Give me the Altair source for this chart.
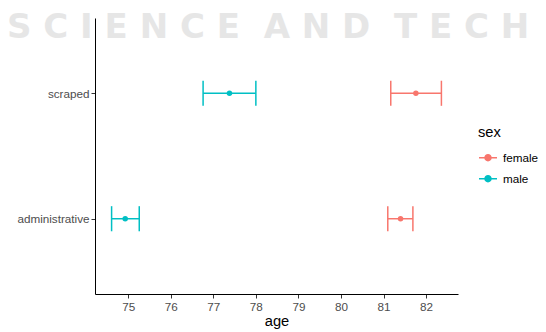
import altair as alt
import pandas as pd

# ---- data ----
groups = ["administrative", "administrative", "scraped", "scraped"]
sexes = ["female", "male", "female", "male"]
age_mean = [81.40, 74.93, 81.76, 77.38]
age_low = [81.10, 74.61, 81.17, 76.76]
age_high = [81.69, 75.26, 82.36, 78.00]
group_order = ["administrative", "scraped"]
sex_order = ["female", "male"]
sex_colors = ["#F8766D", "#00BFC4"]
x_ticks = [75, 76, 77, 78, 79, 80, 81, 82]
watermark_words = ["SCIENCE", "AND", "TECH"]
watermark = "\u00a0 ".join(" ".join(w) for w in watermark_words)

df = pd.DataFrame({
    "group": groups,
    "sex": sexes,
    "age": age_mean,
    "low": age_low,
    "high": age_high,
})
df["ypos"] = [group_order.index(g) + 1 for g in groups]

FONT = "Liberation Sans"

xscale = alt.Scale(domain=[74.22, 82.75], nice=False, zero=False)
yscale = alt.Scale(domain=[0.4, 2.6], nice=False, zero=False)
color = alt.Color(
    "sex:N",
    scale=alt.Scale(domain=sex_order, range=sex_colors),
    legend=alt.Legend(title="sex"),
)

xaxis = alt.Axis(values=x_ticks, title="age", grid=False, labelPadding=3, titlePadding=1)
label_expr = "datum.value == 2 ? 'scraped' : (datum.value == 1 ? 'administrative' : '')"
yaxis = alt.Axis(values=[1, 2], labelExpr=label_expr, title=None, grid=False, labelPadding=2)

base = alt.Chart(df).transform_calculate(
    ylo="datum.ypos - 0.1", yhi="datum.ypos + 0.1"
)

hbar = base.mark_rule(strokeWidth=1.5).encode(
    x=alt.X("low:Q", scale=xscale, axis=xaxis),
    x2="high:Q",
    y=alt.Y("ypos:Q", scale=yscale, axis=yaxis),
    color=color,
)
cap_lo = base.mark_rule(strokeWidth=1.5).encode(
    x=alt.X("low:Q", scale=xscale, axis=xaxis),
    y=alt.Y("ylo:Q", scale=yscale, axis=yaxis),
    y2="yhi:Q",
    color=color,
)
cap_hi = base.mark_rule(strokeWidth=1.5).encode(
    x=alt.X("high:Q", scale=xscale, axis=xaxis),
    y=alt.Y("ylo:Q", scale=yscale, axis=yaxis),
    y2="yhi:Q",
    color=color,
)
pts = base.mark_point(filled=True, size=30, opacity=1).encode(
    x=alt.X("age:Q", scale=xscale, axis=xaxis),
    y=alt.Y("ypos:Q", scale=yscale, axis=yaxis),
    color=color,
)

chart = alt.layer(hbar, cap_lo, cap_hi, pts).properties(
    width=363,
    height=276,
    autosize=alt.AutoSizeParams(type="none"),
    padding={"left": 87, "top": 10, "right": 80, "bottom": 38},
    title=alt.TitleParams(
        watermark,
        anchor="start",
        frame="group",
        orient="top",
        offset=0,
        dx=-88,
        dy=54,
        baseline="alphabetic",
        color="#E6E6E6",
        fontSize=34,
        font="DejaVu Sans",
        fontWeight="bold",
        zindex=0,
    ),
).configure_view(stroke=None).configure_axis(
    zindex=1,
    domainColor="black",
    domainWidth=1,
    tickColor="#333333",
    tickWidth=1,
    tickSize=4,
    labelFont=FONT,
    labelFontSize=11.7,
    labelColor="#4D4D4D",
    titleFont=FONT,
    titleFontSize=14.7,
    titleFontWeight="normal",
    titleColor="black",
).configure_legend(
    orient="none",
    legendX=383,
    legendY=107,
    titleFont=FONT,
    titleFontSize=14.7,
    titleFontWeight="normal",
    titleColor="black",
    titlePadding=8,
    labelFont=FONT,
    labelFontSize=11.7,
    labelColor="black",
    labelOffset=5,
    rowPadding=4,
    symbolType="M-1,0H1M-0.33,0A0.33,0.33 0 1,0 0.33,0A0.33,0.33 0 1,0 -0.33,0Z",
    symbolSize=324,
    symbolStrokeWidth=1.5,
)

chart.save("out.html", embed_options={"renderer": "svg", "actions": False})
